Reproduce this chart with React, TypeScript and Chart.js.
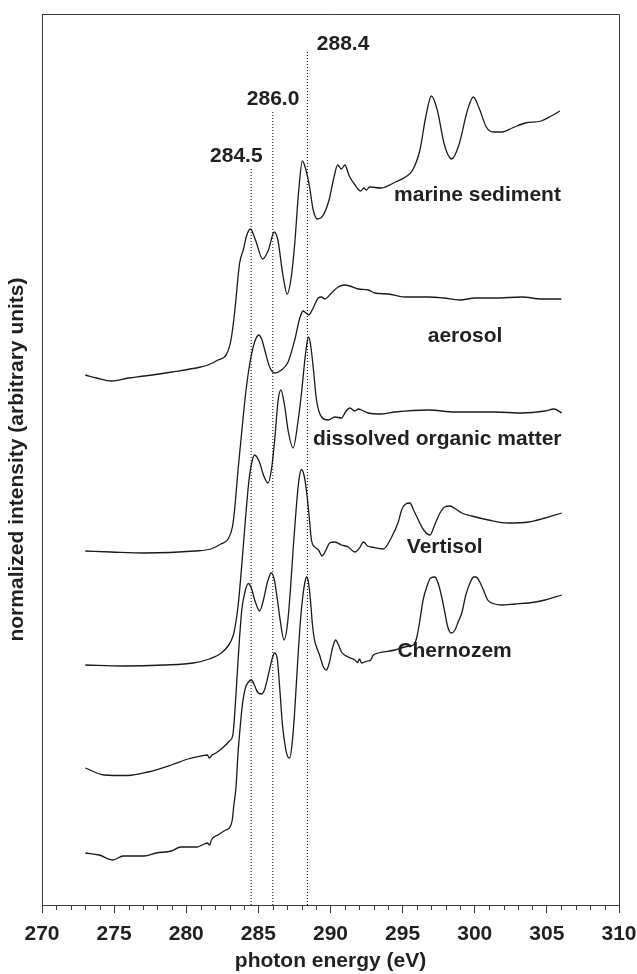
import React, { useEffect, useRef } from 'react';
import { Chart, registerables } from 'chart.js';

Chart.register(...registerables);

// ---- data (photon energy in eV, normalized intensity in arbitrary units, stacked offsets included) ----
const marineSediment: [number, number][] = [
  [273.0, 530], [273.8, 527], [274.8, 524], [276.0, 527], [277.1, 529], [279.0, 533], [281.0, 538], [281.5, 540],
  [282.2, 545], [282.8, 551], [283.1, 565], [283.35, 592], [283.7, 642], [283.95, 655], [284.2, 670], [284.45, 676],
  [284.8, 665], [285.3, 646], [285.7, 655], [286.1, 673], [286.35, 665], [286.7, 630], [287.0, 611], [287.25, 625],
  [287.5, 658], [287.8, 715], [288.05, 744], [288.3, 735], [288.55, 718], [288.8, 695], [289.1, 686], [289.5, 690],
  [289.9, 705], [290.2, 725], [290.5, 740], [290.75, 736], [291.0, 740], [291.3, 729], [291.7, 720], [292.1, 714],
  [292.3, 717], [292.5, 715], [292.7, 718], [293.5, 717], [294.5, 723], [295.2, 728], [295.7, 735], [296.2, 755],
  [296.6, 788], [297.0, 809], [297.4, 795], [297.9, 760], [298.4, 746], [298.9, 760], [299.5, 795], [299.9, 808],
  [300.3, 797], [300.8, 778], [301.3, 773], [301.9, 773], [302.6, 777], [303.5, 782], [304.6, 784], [305.3, 789],
  [305.9, 794],
];

const aerosol: [number, number][] = [
  [273.0, 354], [274.8, 353], [277.1, 352], [280.6, 354], [281.7, 356], [282.4, 361], [282.9, 366], [283.2, 378],
  [283.35, 395], [283.59, 435], [283.94, 487], [284.17, 518], [284.5, 549], [284.74, 563], [285.02, 570], [285.25, 565],
  [285.44, 555], [285.78, 538], [286.13, 532], [286.6, 535], [287.06, 543], [287.52, 565], [287.87, 587], [288.1, 594],
  [288.3, 592], [288.49, 590], [288.8, 597], [289.15, 607], [289.38, 608], [289.6, 606], [290.07, 612], [290.53, 618],
  [290.99, 620], [291.34, 619], [291.92, 616], [292.62, 615], [293.08, 612], [294.0, 611], [295.16, 608], [296.78, 608],
  [297.83, 607], [298.98, 605], [300.02, 607], [301.41, 607], [303.26, 608], [304.65, 606], [306.0, 606],
];

const dissolvedOrganicMatter: [number, number][] = [
  [273.0, 240], [275.65, 239], [278.47, 240], [280.49, 242], [281.6, 246], [282.43, 252], [282.9, 259], [283.1, 264],
  [283.3, 272], [283.6, 300], [283.85, 340], [284.1, 385], [284.35, 425], [284.55, 443], [284.74, 450], [285.07, 443],
  [285.35, 430], [285.67, 422], [285.9, 435], [286.13, 465], [286.37, 505], [286.56, 515], [286.81, 500], [287.08, 473],
  [287.41, 457], [287.76, 485], [287.99, 512], [288.22, 545], [288.37, 562], [288.49, 568], [288.65, 557], [288.8, 538],
  [289.03, 505], [289.38, 488], [289.84, 485], [290.3, 488], [290.76, 487], [291.04, 493], [291.34, 497], [291.69, 494],
  [291.94, 496], [292.15, 495], [292.62, 492], [293.54, 491], [294.47, 493], [296.78, 495], [298.63, 493], [301.41, 493],
  [303.26, 492], [304.88, 494], [305.49, 496], [306.04, 492],
];

const vertisol: [number, number][] = [
  [273.0, 137], [274.31, 130], [275.95, 129.5], [277.34, 133], [278.96, 140], [280.12, 146], [281.04, 149], [281.46, 150],
  [281.6, 147], [281.8, 150], [281.94, 151], [282.43, 156], [283.0, 164], [283.24, 171], [283.4, 200], [283.55, 235],
  [283.7, 268], [283.85, 295], [284.05, 312], [284.3, 321.5], [284.51, 317], [284.79, 303], [285.09, 294], [285.35, 305],
  [285.63, 323], [285.9, 332], [286.11, 325], [286.32, 305], [286.53, 283], [286.78, 265], [287.01, 280], [287.22, 315],
  [287.43, 360], [287.64, 400], [287.81, 425], [287.99, 435.5], [288.16, 430], [288.33, 415], [288.51, 390], [288.68, 365],
  [288.91, 358], [289.17, 355], [289.42, 349], [289.72, 356], [289.93, 362], [290.3, 363], [290.76, 360], [291.23, 358],
  [291.69, 353], [292.01, 357], [292.29, 363], [292.57, 359], [292.85, 358], [293.66, 356], [294.24, 368], [294.7, 383],
  [294.93, 395], [295.21, 401], [295.51, 402], [295.76, 395], [296.09, 385], [296.46, 375], [296.9, 370], [297.22, 380],
  [297.59, 392], [297.92, 398], [298.28, 399], [298.68, 396], [299.1, 392], [299.79, 389], [300.95, 385], [302.34, 382],
  [303.73, 383], [304.88, 387], [306.04, 392],
];

const chernozem: [number, number][] = [
  [273.0, 52], [273.96, 50], [274.91, 45], [275.63, 49], [277.08, 49], [277.92, 52], [278.96, 54], [279.63, 58],
  [280.76, 58], [281.25, 61], [281.46, 62], [281.63, 60], [281.74, 65], [282.2, 70], [282.74, 75], [282.99, 77],
  [283.19, 85], [283.3, 100], [283.45, 118], [283.58, 150], [283.74, 178], [283.89, 200], [284.1, 217], [284.31, 223],
  [284.51, 225], [284.72, 220], [284.93, 213], [285.21, 211], [285.42, 215], [285.69, 230], [285.97, 247], [286.13, 252],
  [286.32, 245], [286.49, 215], [286.67, 180], [286.88, 157], [287.05, 148], [287.17, 147], [287.33, 160], [287.5, 190],
  [287.71, 240], [287.92, 285], [288.09, 310], [288.23, 323], [288.33, 328], [288.47, 323], [288.61, 305], [288.75, 280],
  [288.89, 265], [289.03, 258], [289.24, 250], [289.51, 238], [289.72, 235], [289.93, 243], [290.14, 257], [290.35, 265],
  [290.56, 260], [290.76, 253], [291.23, 248], [291.69, 245], [291.88, 242.5], [292.01, 246], [292.15, 242], [292.36, 243],
  [292.57, 244], [292.78, 245], [292.97, 250], [293.31, 252], [294.47, 255], [295.28, 258.5], [295.74, 260], [295.97, 267],
  [296.2, 285], [296.42, 305], [296.67, 318], [296.94, 327], [297.24, 328], [297.5, 320], [297.71, 308], [297.92, 293],
  [298.13, 278], [298.37, 272], [298.63, 275], [298.85, 283], [299.1, 292], [299.38, 310], [299.67, 322], [299.93, 328],
  [300.09, 328], [300.35, 323], [300.6, 315], [300.9, 305], [301.18, 302], [301.88, 300], [302.8, 301], [303.73, 302],
  [304.88, 305], [306.04, 310],
];

const seriesNames = ['marine sediment', 'aerosol', 'dissolved organic matter', 'Vertisol', 'Chernozem'];
const seriesLabelX = [300.19, 299.33, 297.4, 297.92, 298.6];
const seriesLabelY = [709.6, 568.3, 465.6, 357.3, 254];

const peakPositions = [284.5, 286.0, 288.4];
const peakLineTops = [738, 794, 855];
const peakLabels = ['284.5', '286.0', '288.4'];
const peakLabelX = [283.47, 286.02, 290.87];
const peakLabelY = [749, 805.6, 860.6];

const xMin = 270;
const xMax = 310;
const xMajorStep = 5;
const yMin = 0;
const yMax = 891;

const FONT = "'Liberation Sans', Arial, Helvetica, sans-serif";
const TEXT_COLOR = '#231f20';
const LINE_COLOR = '#1a1a1a';
const FRAME_COLOR = '#3a3a3a';

const decorPlugin = {
  id: 'decor',
  afterDraw(chart: any) {
    const { ctx, chartArea, scales } = chart;
    const xs = scales.x;
    const ys = scales.y;
    ctx.save();
    // top and right frame lines
    ctx.strokeStyle = FRAME_COLOR;
    ctx.lineWidth = 1;
    ctx.beginPath();
    const top = Math.round(chartArea.top) + 0.5;
    const right = Math.round(chartArea.right) + 0.5;
    ctx.moveTo(Math.round(chartArea.left), top);
    ctx.lineTo(right, top);
    ctx.lineTo(right, Math.round(chartArea.bottom));
    ctx.stroke();
    // minor ticks
    ctx.beginPath();
    const b = Math.round(chartArea.bottom);
    for (let v = xMin + 1; v < xMax; v++) {
      if (v % xMajorStep === 0) continue;
      const px = Math.round(xs.getPixelForValue(v)) + 0.5;
      ctx.moveTo(px, b);
      ctx.lineTo(px, b + 5);
    }
    ctx.stroke();
    // texts
    ctx.fillStyle = TEXT_COLOR;
    ctx.font = `bold 21px ${FONT}`;
    ctx.textAlign = 'center';
    ctx.textBaseline = 'middle';
    seriesNames.forEach((name, i) => {
      ctx.fillText(name, xs.getPixelForValue(seriesLabelX[i]), ys.getPixelForValue(seriesLabelY[i]));
    });
    peakLabels.forEach((name, i) => {
      ctx.fillText(name, xs.getPixelForValue(peakLabelX[i]), ys.getPixelForValue(peakLabelY[i]));
    });
    ctx.restore();
  },
};

const toPoints = (arr: [number, number][]) => arr.map(([x, y]) => ({ x, y }));

export default function App() {
  const canvasRef = useRef<HTMLCanvasElement | null>(null);

  useEffect(() => {
    document.body.style.margin = '0';
    const canvas = canvasRef.current;
    if (!canvas) return;

    const spectra = [marineSediment, aerosol, dissolvedOrganicMatter, vertisol, chernozem];
    const spectrumSets = spectra.map((s, i) => ({
      label: seriesNames[i],
      data: toPoints(s),
      borderColor: LINE_COLOR,
      borderWidth: 1.3,
      pointRadius: 0,
      fill: false,
      cubicInterpolationMode: 'monotone' as const,
    }));
    const peakSets = peakPositions.map((p, i) => ({
      label: peakLabels[i],
      data: [{ x: p, y: yMin }, { x: p, y: peakLineTops[i] }],
      borderColor: '#000',
      borderWidth: 1,
      borderDash: [1, 2],
      pointRadius: 0,
      fill: false,
    }));

    const chart = new Chart(canvas, {
      type: 'line',
      data: { datasets: [...peakSets, ...spectrumSets] as any },
      plugins: [decorPlugin],
      options: {
        responsive: false,
        animation: false,
        devicePixelRatio: 1,
        layout: { padding: { top: 14, right: 18, left: 0, bottom: 0 } },
        plugins: { legend: { display: false }, tooltip: { enabled: false } },
        scales: {
          x: {
            type: 'linear',
            min: xMin,
            max: xMax,
            position: 'bottom',
            ticks: {
              stepSize: xMajorStep,
              autoSkip: false,
              maxRotation: 0,
              padding: 9,
              color: TEXT_COLOR,
              font: { family: FONT, size: 21, weight: 'bold' },
            },
            grid: { display: true, drawOnChartArea: false, drawTicks: true, tickLength: 8, color: FRAME_COLOR, lineWidth: 1 },
            border: { display: true, color: FRAME_COLOR, width: 1 },
            title: {
              display: true,
              text: 'photon energy (eV)',
              color: TEXT_COLOR,
              font: { family: FONT, size: 21, weight: 'bold' },
              padding: { top: 0, bottom: 0 },
            },
            afterFit: (s: any) => {
              s.height = 69;
              s.paddingLeft = 0;
              s.paddingRight = 0;
            },
          },
          y: {
            type: 'linear',
            min: yMin,
            max: yMax,
            ticks: { display: false },
            grid: { display: false, drawTicks: false },
            border: { display: true, color: FRAME_COLOR, width: 1 },
            title: {
              display: true,
              text: 'normalized intensity (arbitrary units)',
              color: TEXT_COLOR,
              font: { family: FONT, size: 21, weight: 'bold' },
              padding: { top: 5, bottom: 0 },
            },
            afterFit: (s: any) => {
              s.width = 42;
              s.paddingTop = 0;
              s.paddingBottom = 0;
            },
          },
        },
      } as any,
    });
    return () => chart.destroy();
  }, []);

  return (
    <div style={{ width: 637, height: 974, position: 'relative', background: '#fff' }}>
      <canvas ref={canvasRef} width={637} height={974} style={{ width: 637, height: 974, display: 'block' }} />
    </div>
  );
}
